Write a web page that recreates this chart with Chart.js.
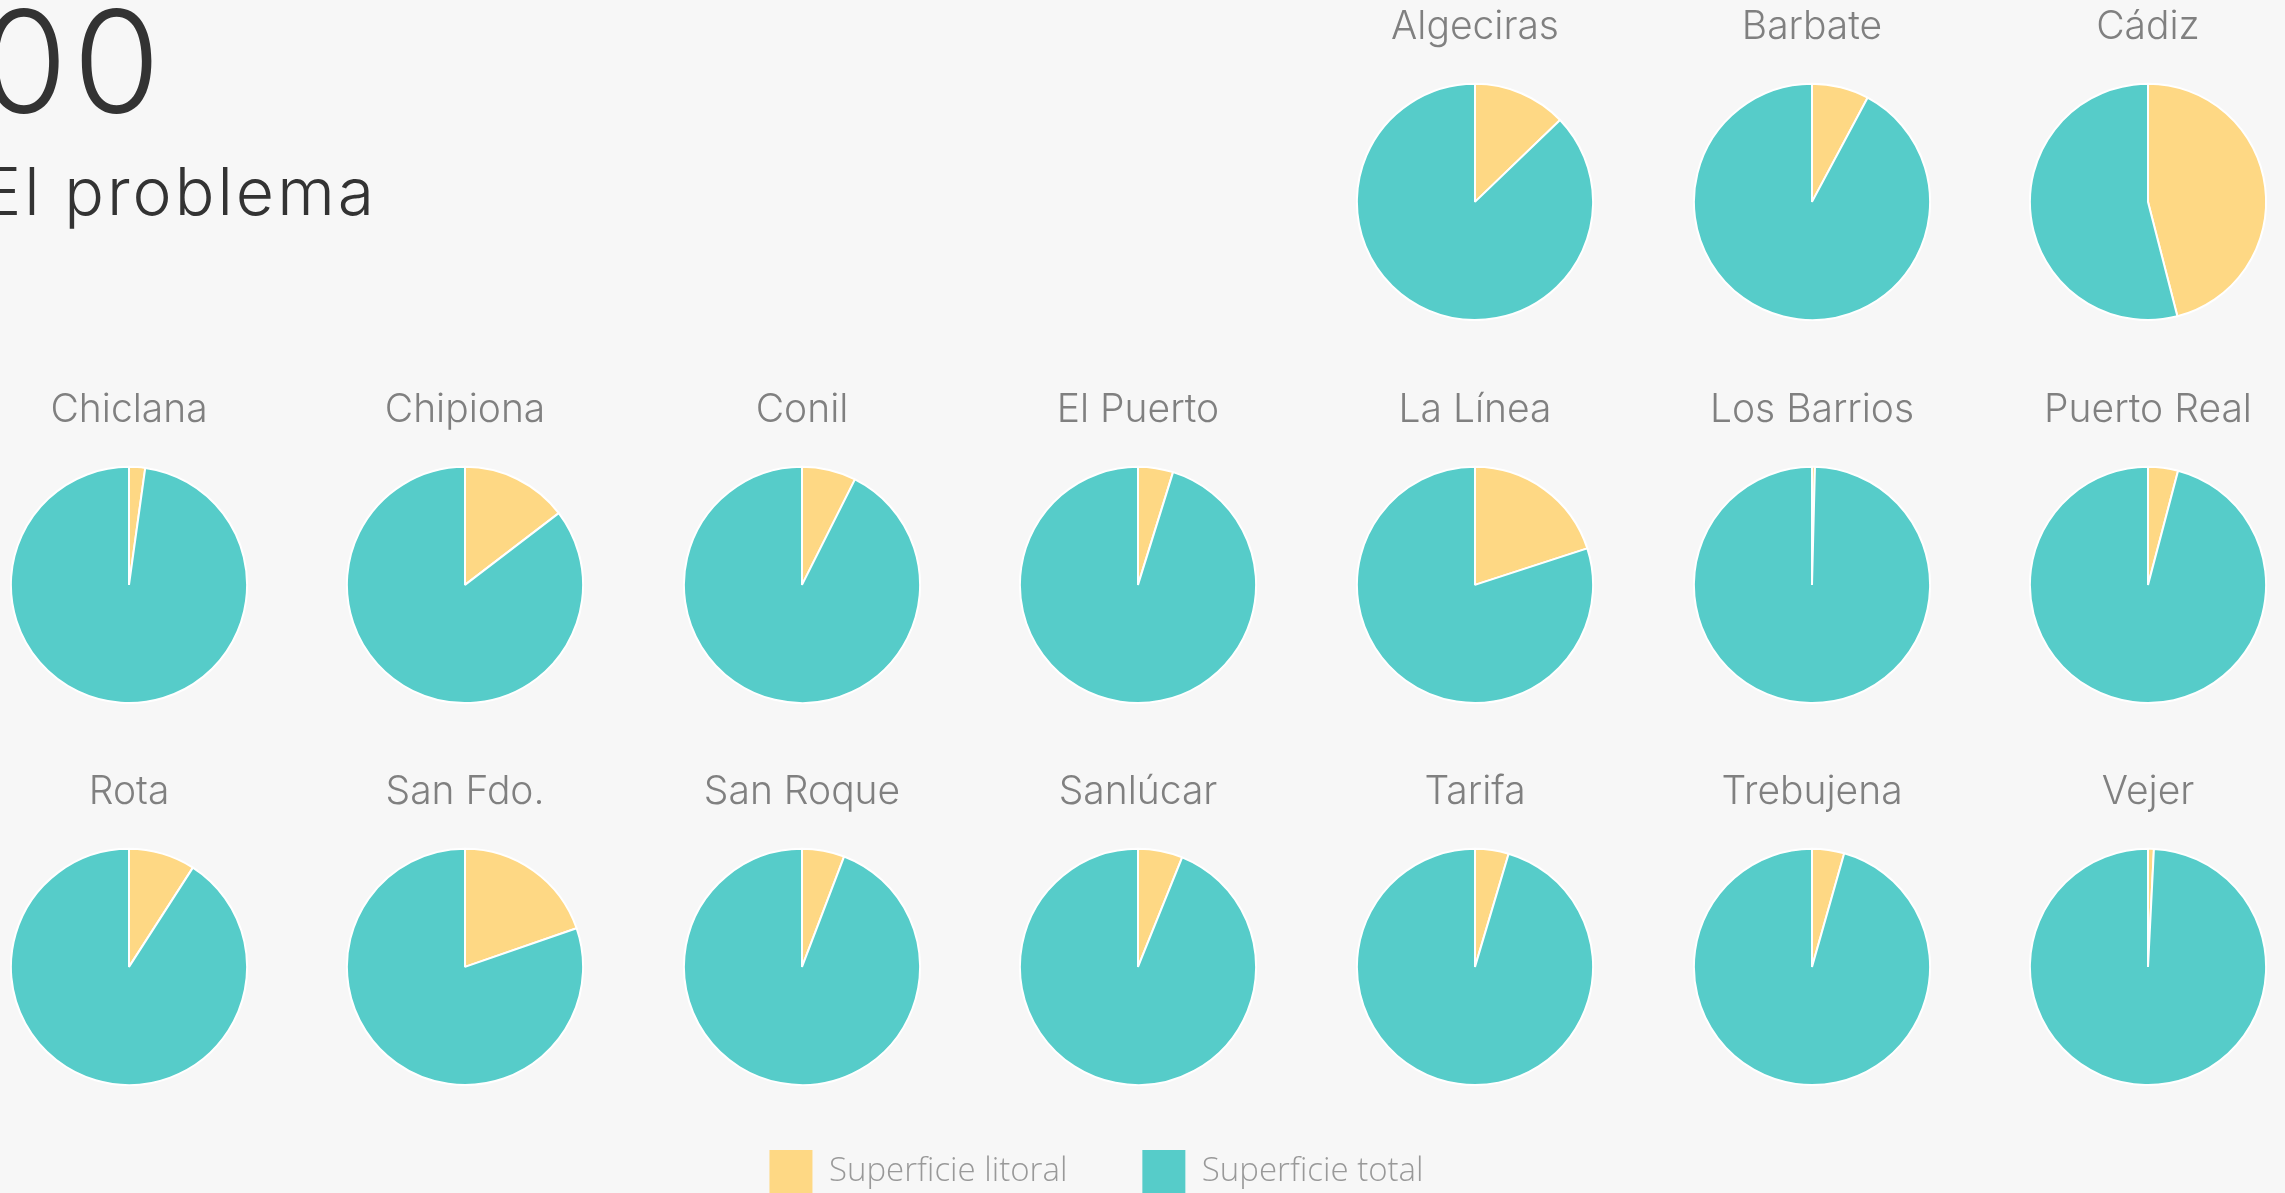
<!DOCTYPE html>
<html lang="es">
<head>
<meta charset="utf-8">
<title>El problema</title>
<script src="https://cdn.jsdelivr.net/npm/chart.js@4.4.1/dist/chart.umd.min.js"></script>
<style>
  html, body { margin: 0; padding: 0; background: #f7f7f7; }
  body { width: 2285px; height: 1193px; overflow: hidden; position: relative; font-family: Inter, "Open Sans", sans-serif; }
  .num { position: absolute; left: -20px; top: -10px; font-size: 142px; font-weight: 300; line-height: 1; color: #333; letter-spacing: 5px; }
  .sub { position: absolute; left: -18px; top: 158px; font-size: 66px; font-weight: 300; line-height: 1; color: #333; letter-spacing: 3px; }
  .cell { position: absolute; width: 336px; height: 321px; }
  #legendBox { position: absolute; left: 0; top: 1075px; width: 2193px; height: 300px; }
</style>
</head>
<body>
<div class="num">00</div>
<div class="sub">El problema</div>
<div id="grid"></div>
<div id="legendBox"><canvas id="legend"></canvas></div>
<script>
// municipios de la provincia, % de superficie
const municipios = ['Algeciras', 'Barbate', 'Cádiz', 'Chiclana', 'Chipiona', 'Conil', 'El Puerto',
  'La Línea', 'Los Barrios', 'Puerto Real', 'Rota', 'San Fdo.', 'San Roque', 'Sanlúcar',
  'Tarifa', 'Trebujena', 'Vejer'];
const litoral = [12.8, 7.8, 46, 2.2, 14.6, 7.4, 4.8, 20, 0.4, 4.1, 9.1, 19.7, 5.8, 6.1, 4.6, 4.4, 0.8];
const total = [87.2, 92.2, 54, 97.8, 85.4, 92.6, 95.2, 80, 99.6, 95.9, 90.9, 80.3, 94.2, 93.9, 95.4, 95.6, 99.2];
const series = ['Superficie litoral', 'Superficie total'];
const colores = ['#FED884', '#56CCC9'];

Chart.defaults.font.family = 'Inter, "Open Sans", sans-serif';
Chart.defaults.animation = false;

const grid = document.getElementById('grid');
const colW = 336.6;
const rowTops = [0, 383, 765];

municipios.forEach((nombre, i) => {
  const k = i + 4;                  // las 4 primeras casillas quedan para el titulo
  const row = Math.floor(k / 7);
  const col = k % 7;
  const cell = document.createElement('div');
  cell.className = 'cell';
  cell.style.left = (128.5 + col * colW - 168) + 'px';
  cell.style.top = rowTops[row] + 'px';
  const canvas = document.createElement('canvas');
  cell.appendChild(canvas);
  grid.appendChild(cell);

  new Chart(canvas, {
    type: 'pie',
    data: {
      labels: series,
      datasets: [{
        data: [litoral[i], total[i]],
        backgroundColor: colores,
        borderColor: '#ffffff',
        borderWidth: 2
      }]
    },
    options: {
      responsive: true,
      maintainAspectRatio: false,
      plugins: {
        legend: { display: false },
        tooltip: { enabled: false },
        title: {
          display: true,
          text: nombre,
          color: '#808080',
          font: { size: 39, weight: '300' },
          padding: { top: 4, bottom: 32 }
        }
      }
    }
  });
});

// leyenda comun
new Chart(document.getElementById('legend'), {
  type: 'pie',
  data: {
    labels: series,
    datasets: [{ data: [0, 0], backgroundColor: colores, borderWidth: 0 }]
  },
  options: {
    responsive: true,
    maintainAspectRatio: false,
    plugins: {
      tooltip: { enabled: false },
      legend: {
        display: true,
        position: 'top',
        labels: {
          boxWidth: 43,
          boxHeight: 43,
          padding: 75,
          color: '#999999',
          font: { size: 33, weight: '300', family: '"Open Sans", sans-serif' }
        }
      }
    }
  }
});
</script>
</body>
</html>
